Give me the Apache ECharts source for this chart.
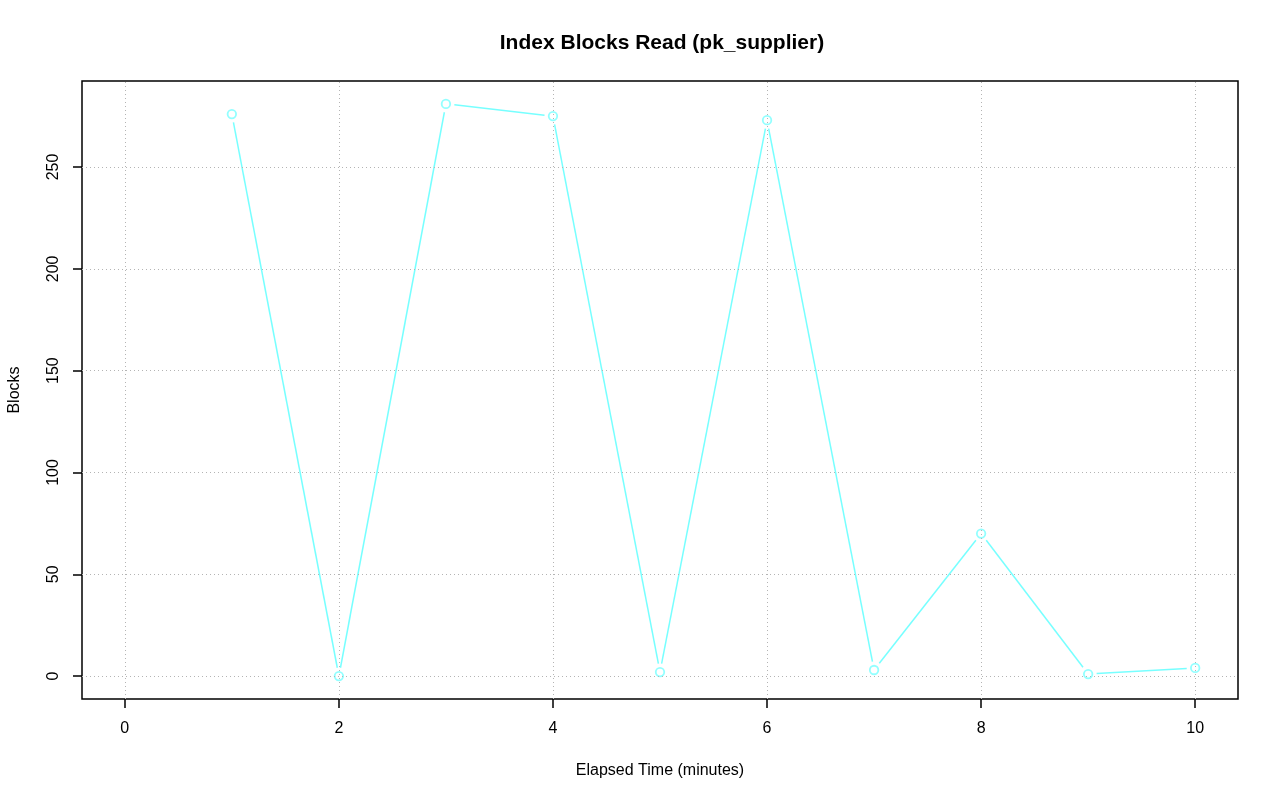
<!DOCTYPE html>
<html>
<head>
<meta charset="utf-8">
<script src="https://cdn.jsdelivr.net/npm/echarts@6/dist/echarts.min.js"></script>
<style>html,body{margin:0;padding:0;background:#fff}#c{width:1280px;height:801px}</style>
</head>
<body>
<div id="c"></div>
<script>
const minutes = [1, 2, 3, 4, 5, 6, 7, 8, 9, 10];
const blocks = [276, 0, 281, 275, 2, 273, 3, 70, 1, 4];
const xTicks = [0, 2, 4, 6, 8, 10];
const yTicks = [0, 50, 100, 150, 200, 250];

const LINE = '#77ffff';
const FONT = '"Liberation Sans", Arial, sans-serif';
const chart = echarts.init(document.getElementById('c'), null, {renderer: 'canvas'});
const points = minutes.map((m, i) => [m, blocks[i]]);
const gridStyle = {color: '#b4b4b4', width: 1, type: [1, 3]};

chart.setOption({
  animation: false,
  backgroundColor: '#fff',
  title: {
    text: 'Index Blocks Read (pk_supplier)',
    left: 657, top: 28, textAlign: 'center',
    textStyle: {fontFamily: FONT, fontSize: 21, fontWeight: 'bold', color: '#000'}
  },
  grid: {left: 82, right: 42, top: 81, bottom: 102, outerBoundsMode: 'none', containLabel: false, show: true, borderColor: '#000', borderWidth: 1.5, backgroundColor: 'transparent'},
  xAxis: {
    type: 'value', min: -0.4, max: 10.4,
    name: 'Elapsed Time (minutes)', nameLocation: 'middle', nameGap: 64,
    nameTextStyle: {fontFamily: FONT, fontSize: 16, color: '#000'},
    axisLine: {show: false, onZero: false},
    axisTick: {show: true, inside: false, customValues: xTicks, length: 9, lineStyle: {color: '#000', width: 1.5}},
    axisLabel: {customValues: xTicks, margin: 22, fontFamily: FONT, fontSize: 16, color: '#000'},
    splitLine: {show: false}
  },
  yAxis: {
    type: 'value', min: -11.24, max: 292.24,
    name: 'Blocks', nameLocation: 'middle', nameGap: 59,
    nameTextStyle: {fontFamily: FONT, fontSize: 16, color: '#000'},
    axisLine: {show: false, onZero: false},
    axisTick: {show: true, inside: false, customValues: yTicks, length: 9, lineStyle: {color: '#000', width: 1.5}},
    axisLabel: {customValues: yTicks, rotate: 90, margin: 20, fontFamily: FONT, fontSize: 16, color: '#000'},
    splitLine: {show: false}
  },
  series: [
    {
      type: 'line', data: [], silent: true,
      markLine: {
        silent: true, symbol: 'none', label: {show: false}, animation: false,
        lineStyle: gridStyle,
        data: xTicks.map(v => ({xAxis: v})).concat(yTicks.map(v => ({yAxis: v})))
      }
    },
    {
      type: 'custom', silent: true,
      data: points,
      encode: {x: 0, y: 1},
      renderItem: function (params, api) {
        const i = params.dataIndex;
        if (i >= points.length - 1) return null;
        const a = api.coord(points[i]);
        const b = api.coord(points[i + 1]);
        const dx = b[0] - a[0], dy = b[1] - a[1];
        const len = Math.sqrt(dx * dx + dy * dy);
        const gap = 8.5;
        if (len <= 2 * gap) return null;
        const ux = dx / len, uy = dy / len;
        return {
          type: 'line',
          shape: {x1: a[0] + ux * gap, y1: a[1] + uy * gap, x2: b[0] - ux * gap, y2: b[1] - uy * gap},
          style: {stroke: LINE, lineWidth: 1.5}
        };
      }
    },
    {
      type: 'scatter', silent: true,
      data: points,
      symbol: 'circle', symbolSize: 8.5,
      itemStyle: {color: 'transparent', borderColor: LINE, borderWidth: 1.8}
    }
  ]
});
</script>
</body>
</html>
